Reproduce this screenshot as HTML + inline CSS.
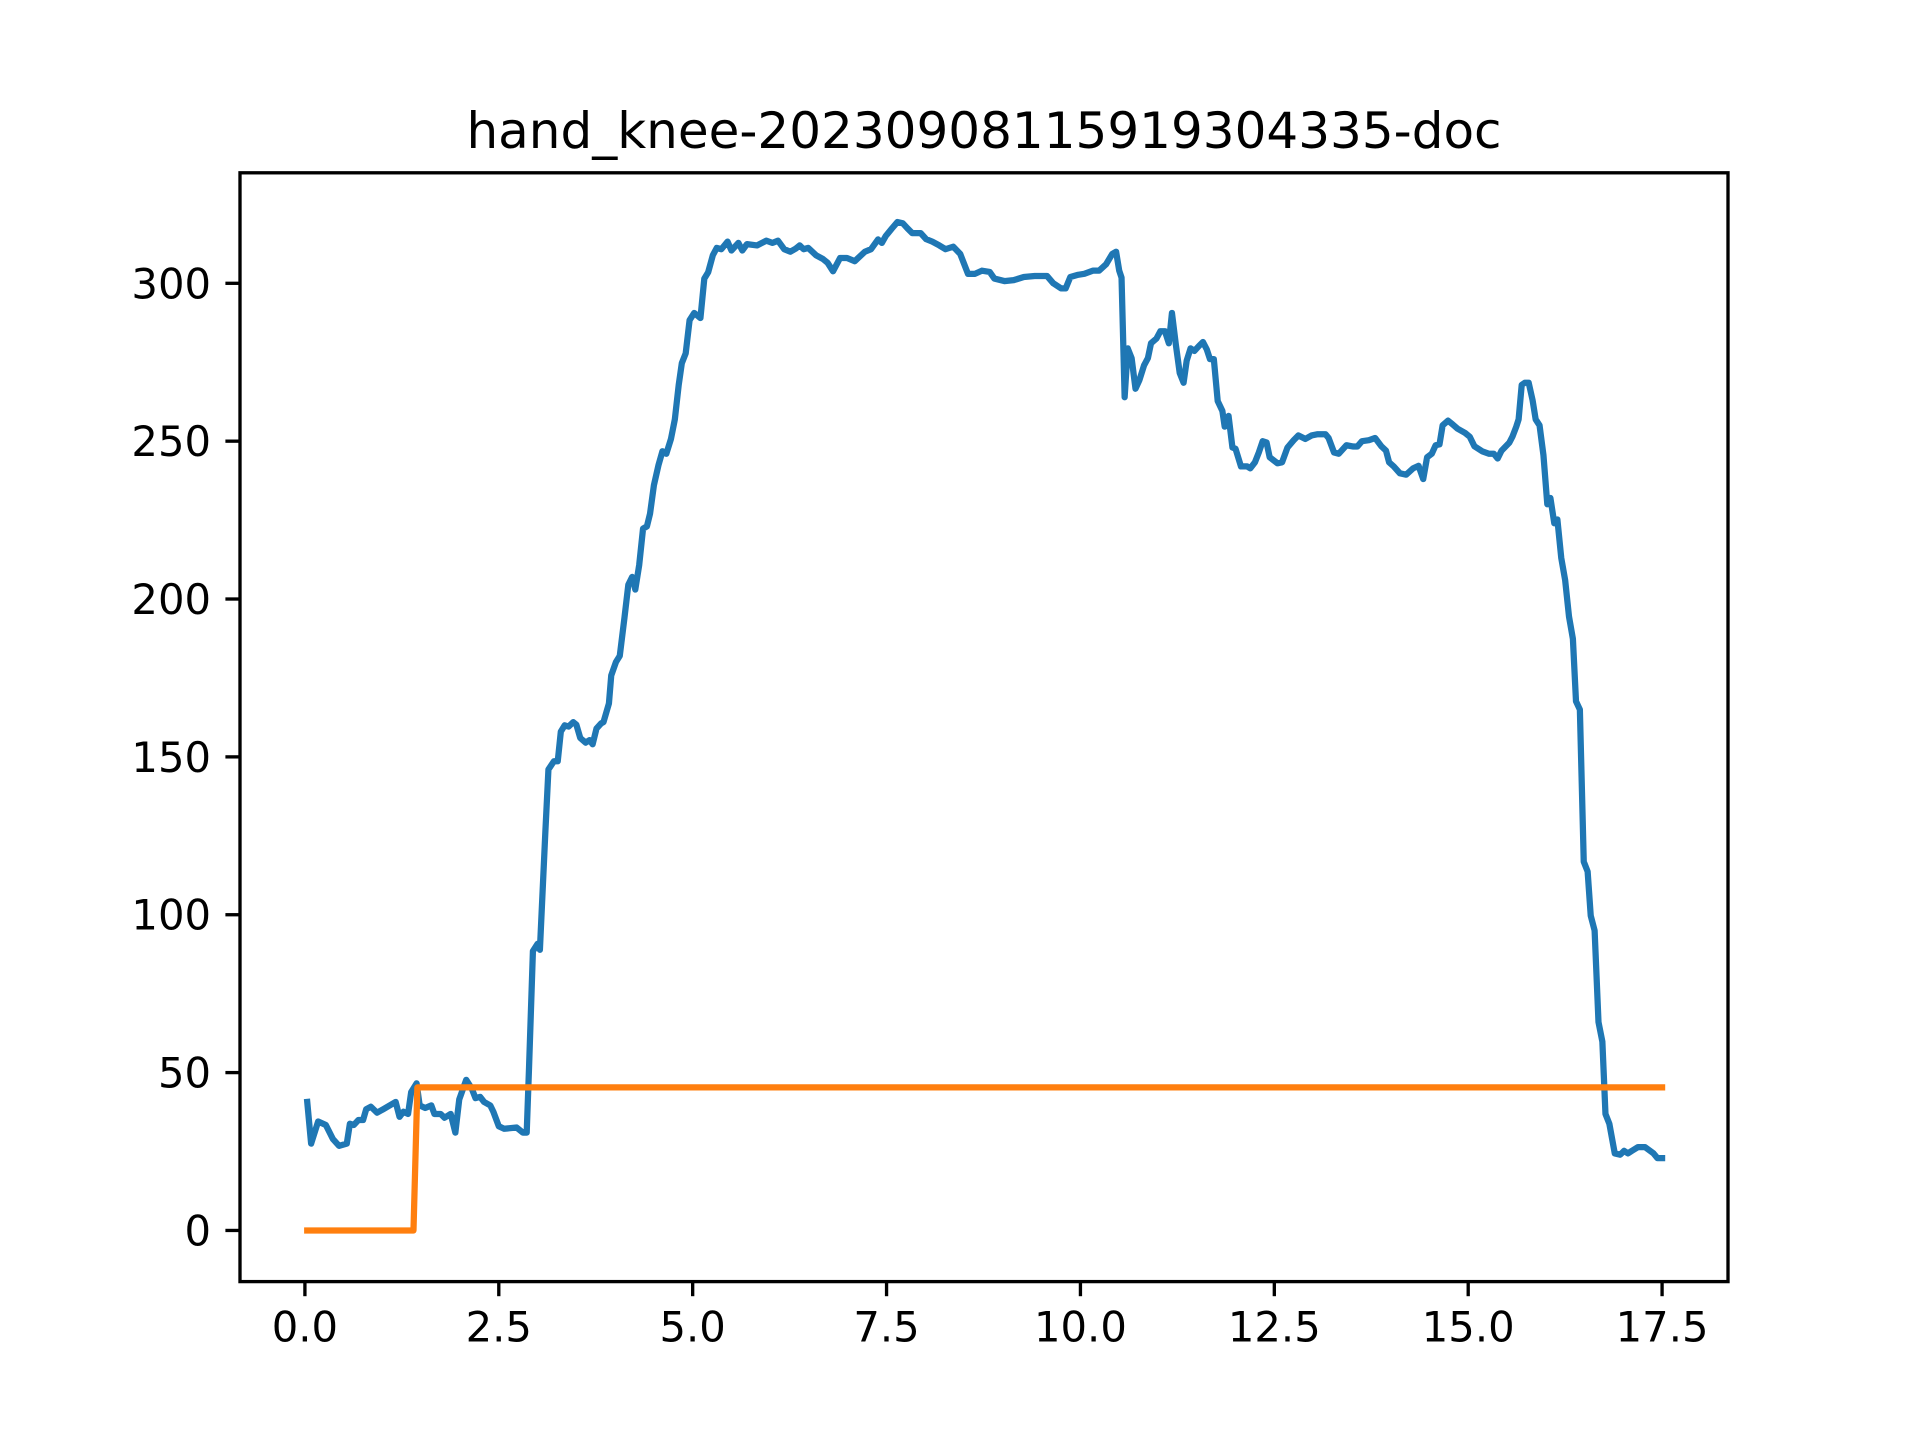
<!DOCTYPE html>
<html><head><meta charset="utf-8"><style>
html,body{margin:0;padding:0;background:#fff;}
svg{display:block;}
text{font-family:"DejaVu Sans","Liberation Sans",sans-serif;fill:#000;}
</style></head><body>
<svg id="chart" width="1920" height="1440" viewBox="0 0 1920 1440" xmlns="http://www.w3.org/2000/svg">
<rect width="1920" height="1440" fill="#fff"/>
<text x="984" y="148" font-size="50" text-anchor="middle">hand_knee-20230908115919304335-doc</text>
<g id="plot"></g>
<g id="axes"></g>
</svg>
<script>
const blueX=[0.03,0.08,0.17,0.27,0.36,0.44,0.54,0.58,0.63,0.69,0.75,0.79,0.85,0.93,1.01,1.17,1.22,1.27,1.33,1.37,1.44,1.48,1.55,1.63,1.67,1.75,1.80,1.88,1.94,1.99,2.08,2.15,2.20,2.26,2.31,2.39,2.43,2.50,2.57,2.73,2.81,2.86,2.89,2.94,3.00,3.03,3.10,3.14,3.21,3.26,3.30,3.35,3.40,3.46,3.50,3.55,3.62,3.67,3.71,3.76,3.82,3.85,3.92,3.95,4.01,4.06,4.12,4.17,4.22,4.26,4.31,4.36,4.41,4.45,4.50,4.56,4.61,4.66,4.72,4.77,4.82,4.86,4.91,4.96,5.02,5.10,5.15,5.20,5.26,5.31,5.37,5.45,5.50,5.59,5.64,5.70,5.83,5.95,6.03,6.10,6.18,6.26,6.33,6.38,6.43,6.49,6.59,6.68,6.74,6.81,6.90,6.99,7.09,7.22,7.30,7.39,7.44,7.49,7.57,7.64,7.71,7.77,7.83,7.94,8.01,8.09,8.18,8.26,8.36,8.45,8.55,8.64,8.73,8.83,8.89,9.02,9.14,9.27,9.41,9.57,9.65,9.75,9.81,9.87,9.97,10.05,10.16,10.24,10.33,10.41,10.46,10.50,10.53,10.57,10.61,10.66,10.71,10.76,10.82,10.87,10.91,10.98,11.03,11.09,11.14,11.18,11.23,11.28,11.33,11.37,11.42,11.47,11.53,11.58,11.63,11.67,11.72,11.77,11.83,11.86,11.91,11.96,12.00,12.07,12.15,12.19,12.25,12.30,12.35,12.40,12.44,12.54,12.60,12.67,12.75,12.81,12.90,12.98,13.06,13.16,13.20,13.27,13.33,13.43,13.52,13.57,13.63,13.72,13.80,13.88,13.94,13.98,14.04,14.12,14.20,14.29,14.36,14.42,14.47,14.53,14.58,14.63,14.67,14.74,14.80,14.86,14.96,15.02,15.08,15.18,15.27,15.33,15.38,15.43,15.53,15.57,15.62,15.65,15.69,15.73,15.78,15.83,15.87,15.92,15.97,16.02,16.06,16.11,16.15,16.20,16.25,16.30,16.35,16.39,16.44,16.49,16.54,16.58,16.63,16.68,16.73,16.77,16.82,16.89,16.96,17.01,17.06,17.11,17.19,17.28,17.39,17.44,17.50];
const blueY=[40.7,27.5,34.5,33.4,29,26.8,27.5,33.8,33.4,35,35,38.4,39.2,37.3,38.4,40.7,36,37.6,36.9,43.8,46.6,39.6,38.8,39.6,36.9,36.9,35.7,36.9,31,41.5,47.7,45,41.9,42.3,40.7,39.6,37.6,33,32.2,32.6,31,31,51.6,88.5,90.8,88.9,126,146,148.6,148.6,158,160,159.6,161,160.2,156,154.5,155.3,154,159,160.6,161,166.9,175.8,180,182,194,204.5,207,203,210.7,222.3,223,227,236,242.5,246.8,246,250.7,256.9,267.8,274.7,277.8,288.3,290.6,289,301.5,303.5,308.9,311.2,310.8,313.2,310.4,312.8,310.4,312.4,312,313.5,312.8,313.5,310.8,310,311,312,310.8,311.2,308.9,307.7,306.5,303.8,308,308,307,310,310.8,313.9,312.8,315,317.4,319.4,319,317.4,315.9,315.9,314,313.2,312,310.8,311.6,309.3,303,303,304,303.6,301.5,300.7,301,302,302.3,302.3,300,298.4,298.4,302,302.7,303,304,304,306,309.3,310,304,301.8,263.9,279.4,276.3,266.6,269.3,274,276.3,281,282.5,284.8,284.8,281,290.6,280.6,271.6,268.5,275.5,279.4,278.6,280.2,281.4,279,276,276,262.7,259.6,254.6,258,248,247.6,242,242,241.4,243.3,246.4,250,249.6,244.9,243,243.3,248,250.3,251.8,250.7,251.8,252.2,252.2,251,246.4,246,248.7,248.3,248.3,250,250.3,251,248.4,247,243.3,242,239.8,239.4,241.4,242.2,238,244.9,246,248.7,249,255,256.5,255.3,254,252.6,251.4,248.4,246.8,246,246,244.5,247,249.5,251.4,254.6,256.9,267.8,268.5,268.5,263,256.9,255,245.6,230,232,224,225.2,213,206,194.4,187.4,167.6,165,116.8,113.7,99.7,95,66,59.8,36.9,33.8,24.4,24,25.2,24.4,25.2,26.4,26.4,24.4,22.9,22.9];
const orangeX=[0.03,1.40,1.45,17.50];
const orangeY=[0,0,45.3,45.3];
const xTicks=[0,2.5,5,7.5,10,12.5,15,17.5];
const xTickLabels=["0.0","2.5","5.0","7.5","10.0","12.5","15.0","17.5"];
const yTicks=[0,50,100,150,200,250,300];
const yTickLabels=["0","50","100","150","200","250","300"];

const L=240,R=1728,T=172.8,B=1281.6;
const XMIN=-0.837,XMAX=18.35,YMIN=-16.2,YMAX=335;
function sx(v){return L+(v-XMIN)/(XMAX-XMIN)*(R-L);}
function sy(v){return B-(v-YMIN)/(YMAX-YMIN)*(B-T);}
const NS="http://www.w3.org/2000/svg";
const plot=document.getElementById('plot');
const axes=document.getElementById('axes');
function pts(xs,ys){return xs.map((x,i)=>sx(x).toFixed(2)+','+sy(ys[i]).toFixed(2)).join(' ');}

const blue=document.createElementNS(NS,'polyline');
blue.setAttribute('points',pts(blueX,blueY));
blue.setAttribute('fill','none');blue.setAttribute('stroke','#1f77b4');
blue.setAttribute('stroke-width','6.25');blue.setAttribute('stroke-linejoin','round');blue.setAttribute('stroke-linecap','square');


plot.appendChild(blue);

const orange=document.createElementNS(NS,'polyline');
orange.setAttribute('points',pts(orangeX,orangeY));
orange.setAttribute('fill','none');orange.setAttribute('stroke','#ff7f0e');
orange.setAttribute('stroke-width','6.25');orange.setAttribute('stroke-linejoin','round');orange.setAttribute('stroke-linecap','square');


plot.appendChild(orange);

const frame=document.createElementNS(NS,'rect');
frame.setAttribute('x',L);frame.setAttribute('y',T);frame.setAttribute('width',R-L);frame.setAttribute('height',B-T);
frame.setAttribute('fill','none');frame.setAttribute('stroke','#000');frame.setAttribute('stroke-width','3.33');


axes.appendChild(frame);

xTicks.forEach((v,i)=>{
  const x=sx(v);
  const t=document.createElementNS(NS,'line');
  t.setAttribute('x1',x);t.setAttribute('x2',x);t.setAttribute('y1',B);t.setAttribute('y2',B+14.6);
  t.setAttribute('stroke','#000');t.setAttribute('stroke-width','3.33');
  
  
  axes.appendChild(t);
  const lb=document.createElementNS(NS,'text');
  lb.setAttribute('x',x);lb.setAttribute('y',B+60);lb.setAttribute('font-size','41.7');lb.setAttribute('text-anchor','middle');
  lb.textContent=xTickLabels[i];
  
  
  axes.appendChild(lb);
});
yTicks.forEach((v,i)=>{
  const y=sy(v);
  const t=document.createElementNS(NS,'line');
  t.setAttribute('x1',L-14.6);t.setAttribute('x2',L);t.setAttribute('y1',y);t.setAttribute('y2',y);
  t.setAttribute('stroke','#000');t.setAttribute('stroke-width','3.33');
  
  
  axes.appendChild(t);
  const lb=document.createElementNS(NS,'text');
  lb.setAttribute('x',L-29);lb.setAttribute('y',y+15);lb.setAttribute('font-size','41.7');lb.setAttribute('text-anchor','end');
  lb.textContent=yTickLabels[i];
  
  
  axes.appendChild(lb);
});
</script>
</body></html>
